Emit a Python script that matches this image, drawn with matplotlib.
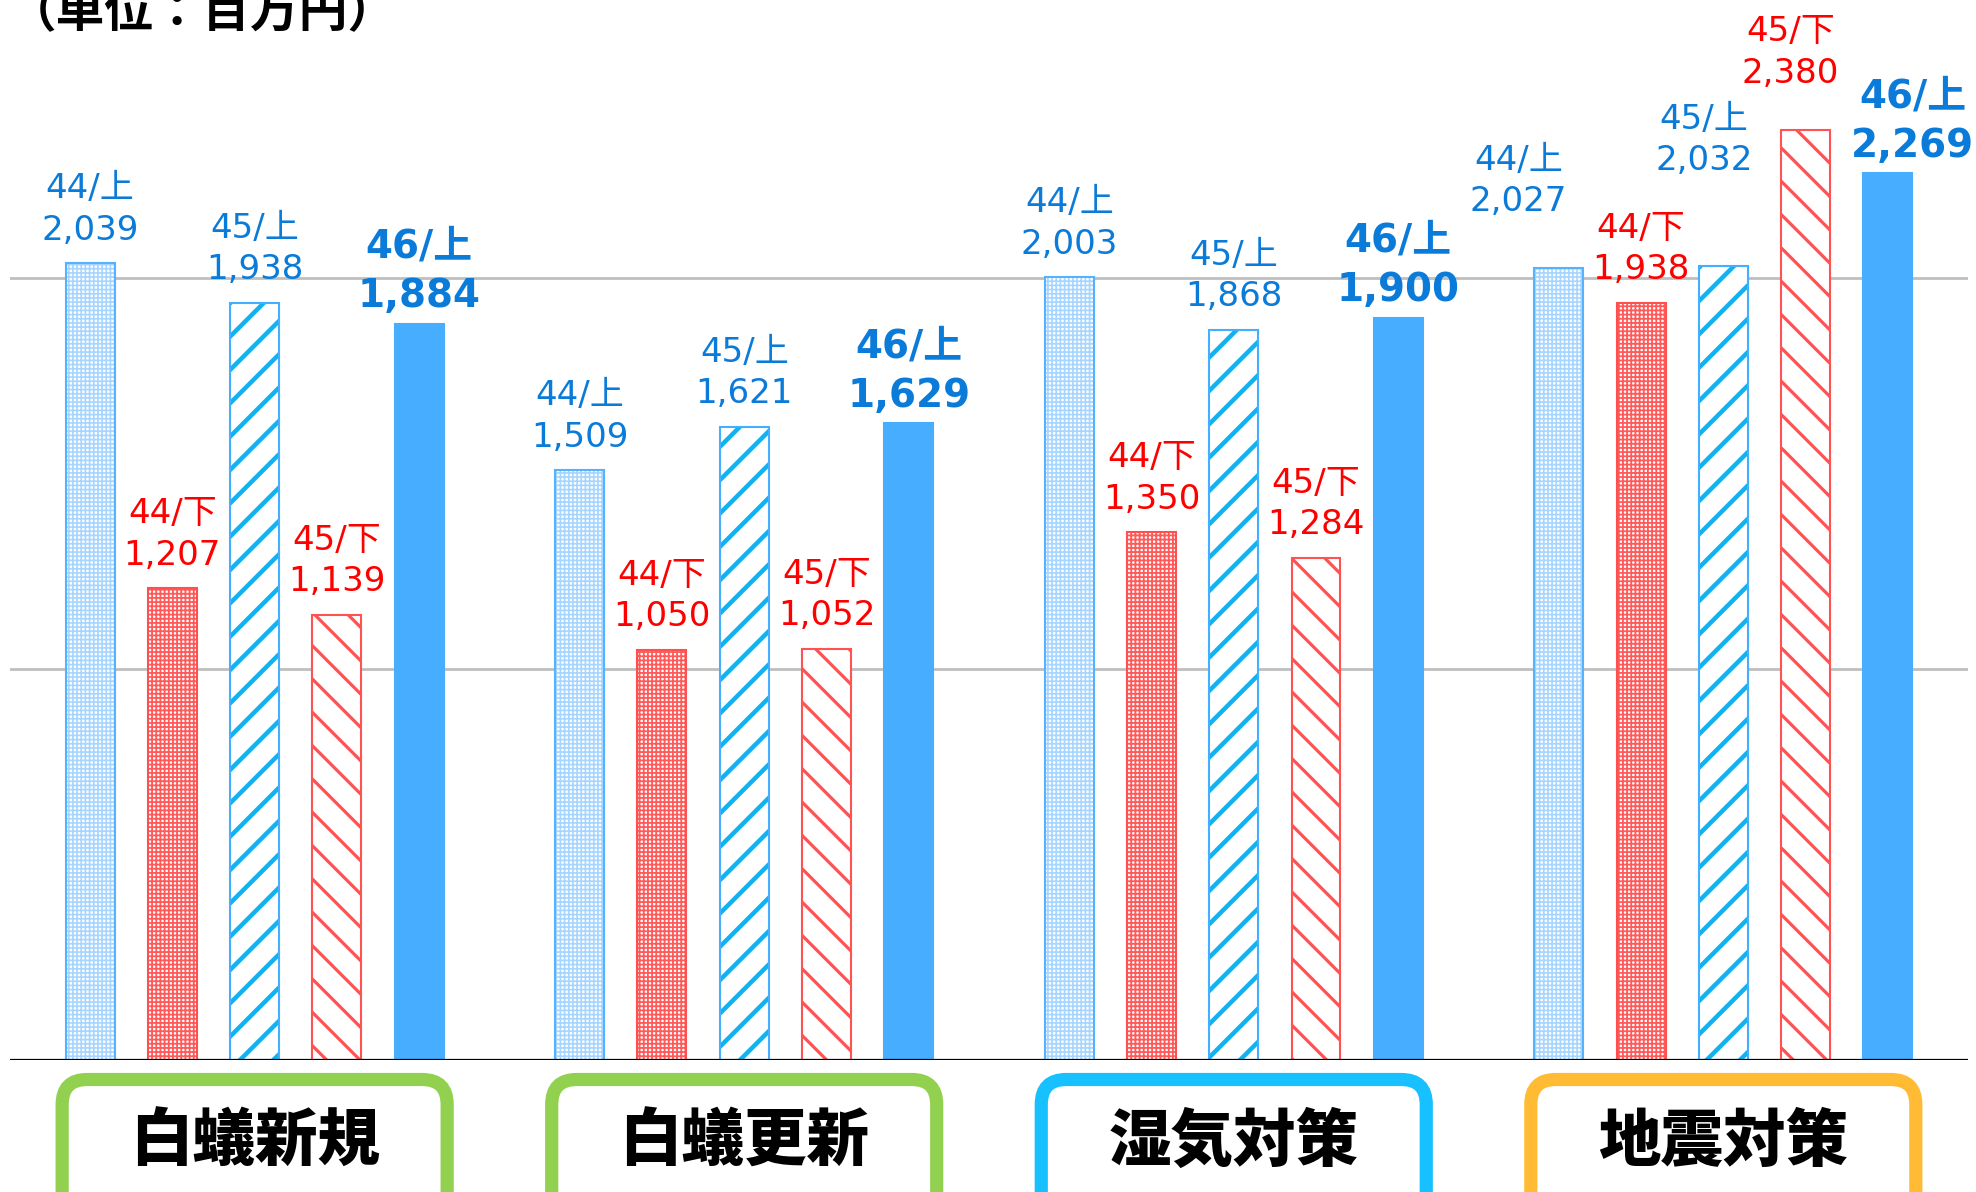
import numpy as np
import matplotlib.pyplot as plt
from matplotlib.patches import FancyBboxPatch

plt.rcParams['font.family'] = ['DejaVu Sans', 'Noto Sans CJK JP']

# データ（単位：百万円）
categories = ['白蟻新規', '白蟻更新', '湿気対策', '地震対策']
periods = ['44/上', '44/下', '45/上', '45/下', '46/上']
v44_up = [2039, 1509, 2003, 2027]
v44_dn = [1207, 1050, 1350, 1938]
v45_up = [1938, 1621, 1868, 2032]
v45_dn = [1139, 1052, 1284, 2380]
v46_up = [1884, 1629, 1900, 2269]
series = [v44_up, v44_dn, v45_up, v45_dn, v46_up]
box_colors = ['#92D050', '#92D050', '#17C0FF', '#FFBB33']

# 系列ごとのスタイル
styles = [
    dict(face='white', edge='#55B2FF', hcol='#A6D6FF', hatch='++++', hlw=1.2, text='#0B7BD9', bold=False),
    dict(face='white', edge='#FF5050', hcol='#FF5A5A', hatch='++++', hlw=1.3, text='#FF0000', bold=False),
    dict(face='white', edge='#45AFFF', hcol='#10B2F2', hatch='/', hlw=3.2, text='#0B7BD9', bold=False),
    dict(face='white', edge='#FF5252', hcol='#FF5252', hatch='\\', hlw=2.3, text='#FF0000', bold=False),
    dict(face='#47ADFF', edge='#47ADFF', hcol='#47ADFF', hatch=None, hlw=1.0, text='#0B7BD9', bold=True),
]

# 重なりを避けるためのラベル位置調整（系列, カテゴリ）: (dx, dy) ポイント
label_shift = {(0, 3): (-29, 24), (2, 3): (-14, 52), (3, 3): (-11, 17), (4, 3): (18, 0)}

fig = plt.figure(figsize=(19.76, 11.92), dpi=100)
ax = fig.add_axes([0.005, 0.111, 0.991, 0.889])

x = np.arange(len(categories))
step = 0.168
width = 0.1

for j, (vals, st) in enumerate(zip(series, styles)):
    xs = x + (j - 2) * step
    with plt.rc_context({'hatch.linewidth': st['hlw']}):
        bars = ax.bar(xs, vals, width, facecolor=st['face'], edgecolor=st['hcol'],
                      hatch=st['hatch'], linewidth=0, zorder=3)
    for b in bars:
        if hasattr(b, 'set_hatch_linewidth'):
            b.set_hatch_linewidth(st['hlw'])
    # 枠線
    ax.bar(xs, vals, width, fill=False, edgecolor=st['edge'], linewidth=1.5, zorder=4)

    for i, (xi, v) in enumerate(zip(xs, vals)):
        label = f'{periods[j]}\n{v:,}'
        dx, dy = label_shift.get((j, i), (0, 0))
        if st['bold']:
            ax.annotate(label, (xi, v), xytext=(dx, 6 + dy), textcoords='offset points',
                        ha='center', va='bottom', fontsize=28, fontweight='bold',
                        color=st['text'], linespacing=1.4, zorder=5)
        else:
            ax.annotate(label, (xi, v), xytext=(dx, 12 + dy), textcoords='offset points',
                        ha='center', va='bottom', fontsize=24.5,
                        color=st['text'], linespacing=1.32, zorder=5)

ax.set_xlim(-0.5, 3.5)
ax.set_ylim(0, 2713)
for yv in [1000, 2000]:
    ax.axhline(yv, color='#BFBFBF', linewidth=2, zorder=1)
ax.axhline(0, color='black', linewidth=1.6, zorder=4)
ax.axis('off')

# カテゴリ名の枠
fig.canvas.draw()
for xi, name, col in zip(x, categories, box_colors):
    px = ax.transData.transform((xi, 0))[0]
    w = 385
    box = FancyBboxPatch(((px - w / 2) / fig.dpi, -0.4), w / fig.dpi, 1.525,
                         boxstyle='round,pad=0,rounding_size=0.25',
                         transform=fig.dpi_scale_trans, facecolor='white',
                         edgecolor=col, linewidth=9.5, clip_on=False)
    fig.add_artist(box)
    fig.text(px / fig.dpi / 19.76, 50 / 1192, name, ha='center', va='center',
             fontsize=45, fontweight='heavy', family=['Noto Sans CJK JP'])

fig.text(0.004, 1 - 27 / 1192, '（単位：百万円）', ha='left', va='baseline',
         fontsize=35, fontweight='bold', family=['Noto Sans CJK JP'])

fig.savefig('out.png', dpi=100)
